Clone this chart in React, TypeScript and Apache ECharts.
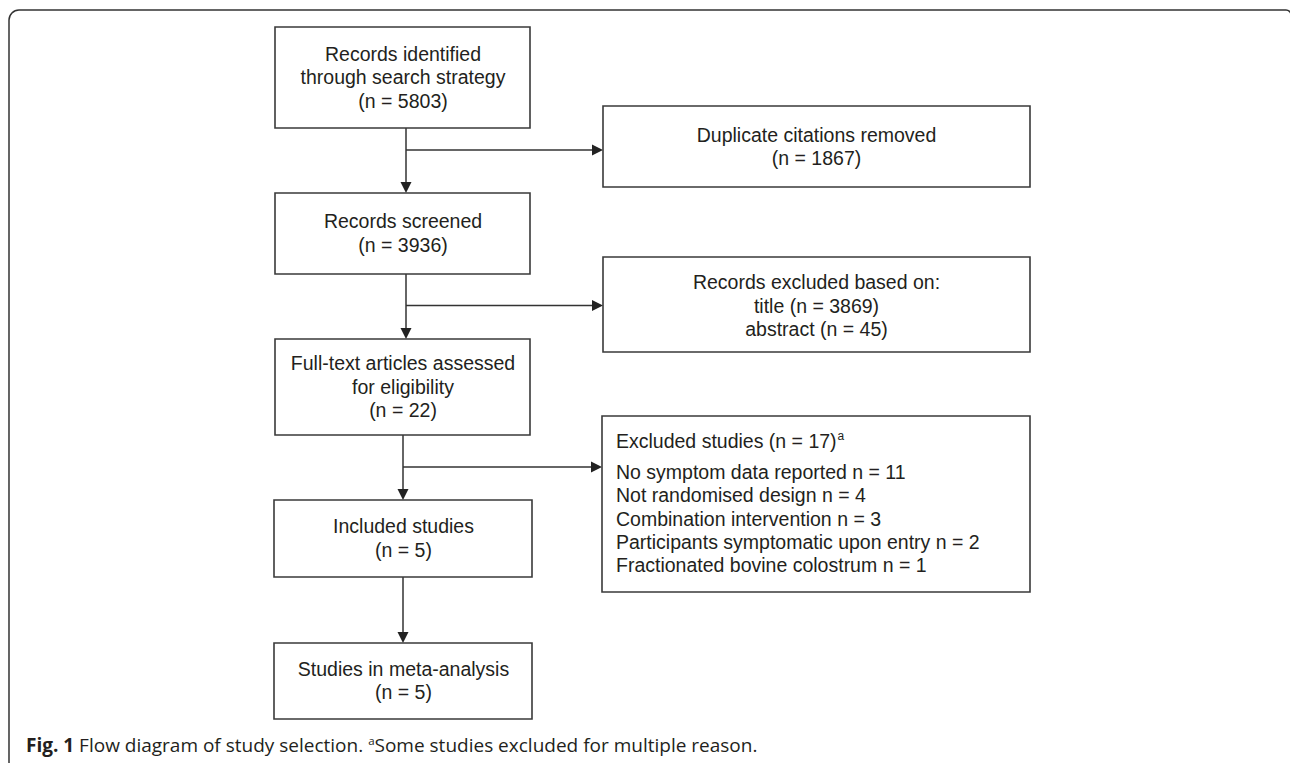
import React, { useEffect, useRef } from "react";
import * as echarts from "echarts";

// ---- content ----
const mainLabels = [
  "Records identified\nthrough search strategy",
  "Records screened",
  "Full-text articles assessed\nfor eligibility",
  "Included studies",
  "Studies in meta-analysis",
];
const mainCounts = [5803, 3936, 22, 5, 5];

const duplicateLabel = "Duplicate citations removed";
const duplicateCount = 1867;

const screeningHeader = "Records excluded based on:";
const screeningReasons = ["title", "abstract"];
const screeningCounts = [3869, 45];

const excludedHeader = "Excluded studies";
const excludedTotal = 17;
const exclusionReasons = [
  "No symptom data reported",
  "Not randomised design",
  "Combination intervention",
  "Participants symptomatic upon entry",
  "Fractionated bovine colostrum",
];
const exclusionCounts = [11, 4, 3, 2, 1];

const captionLabel = "Fig. 1";
const captionText = "Flow diagram of study selection.";
const captionNote = "Some studies excluded for multiple reason.";

// ---- layout ----
const W = 1290;
const H = 763;
const mainBoxes = [
  [275, 27, 255, 101],
  [275, 193, 255, 81],
  [275, 339, 255, 96],
  [274, 500, 258, 77],
  [274, 643, 258, 76],
];
const sideBoxes = [
  [603, 106, 427, 81],
  [603, 257, 427, 95],
  [602, 416, 428, 176],
];
const trunkX = [406, 406, 403, 403];
const branchY = [150, 305.5, 467];

const TEXT = "#231f20";
const LINE = "#333333";
const FONT = "'Liberation Sans', Arial, Helvetica, sans-serif";
const CAP_FONT = "'Open Sans', 'Noto Sans', sans-serif";
const FS = 19.5;
const LH = 23.5;

function box(b: number[]) {
  return {
    type: "rect",
    shape: { x: b[0], y: b[1], width: b[2], height: b[3] },
    style: { fill: "#fff", stroke: "#3a3a3a", lineWidth: 1.6 },
    silent: true,
  };
}
function line(x1: number, y1: number, x2: number, y2: number) {
  return {
    type: "line",
    shape: { x1, y1, x2, y2 },
    style: { stroke: LINE, lineWidth: 1.5 },
    silent: true,
  };
}
function downHead(x: number, y: number) {
  return {
    type: "polygon",
    shape: { points: [[x - 5.5, y - 11], [x + 5.5, y - 11], [x, y]] },
    style: { fill: "#222" },
    silent: true,
  };
}
function rightHead(x: number, y: number) {
  return {
    type: "polygon",
    shape: { points: [[x - 11, y - 5.5], [x - 11, y + 5.5], [x, y]] },
    style: { fill: "#222" },
    silent: true,
  };
}
function centerText(text: string, cx: number, cy: number) {
  return {
    type: "text",
    x: cx,
    y: cy,
    style: {
      text,
      fill: TEXT,
      fontSize: FS,
      fontFamily: FONT,
      align: "center",
      verticalAlign: "middle",
      lineHeight: LH,
    },
    silent: true,
  };
}

export default function App() {
  const ref = useRef<HTMLDivElement>(null);
  useEffect(() => {
    document.body.style.margin = "0";
    if (!ref.current) return;
    const chart = echarts.init(ref.current, null, { renderer: "svg" });
    const els: any[] = [];

    // outer frame
    els.push({
      type: "rect",
      shape: { x: 9, y: 10, width: 1282, height: 760, r: [10, 5, 0, 8] },
      style: { fill: "none", stroke: "#333", lineWidth: 1.5 },
      silent: true,
    });

    // connectors
    for (let i = 0; i < 4; i++) {
      const from = mainBoxes[i];
      const to = mainBoxes[i + 1];
      const x = trunkX[i];
      els.push(line(x, from[1] + from[3], x, to[1] - 10));
      els.push(downHead(x, to[1]));
      if (i < 3) {
        const sb = sideBoxes[i];
        const y = branchY[i];
        els.push(line(x, y, sb[0] - 10, y));
        els.push(rightHead(sb[0], y));
      }
    }

    // main boxes
    mainBoxes.forEach((b, i) => {
      els.push(box(b));
      els.push(
        centerText(
          `${mainLabels[i]}\n(n = ${mainCounts[i]})`,
          b[0] + b[2] / 2 + 0.5,
          b[1] + b[3] / 2 - 0.5
        )
      );
    });

    // side box 1
    const s1 = sideBoxes[0];
    els.push(box(s1));
    els.push(
      centerText(`${duplicateLabel}\n(n = ${duplicateCount})`, s1[0] + s1[2] / 2, s1[1] + s1[3] / 2)
    );

    // side box 2
    const s2 = sideBoxes[1];
    els.push(box(s2));
    els.push(
      centerText(
        [screeningHeader, ...screeningReasons.map((r, i) => `${r} (n = ${screeningCounts[i]})`)].join("\n"),
        s2[0] + s2[2] / 2,
        s2[1] + s2[3] / 2 + 1
      )
    );

    // side box 3
    const s3 = sideBoxes[2];
    els.push(box(s3));
    const tx = s3[0] + 14;
    els.push({
      type: "text",
      x: tx,
      y: 448 - 6.8,
      style: {
        text: `${excludedHeader} (n = ${excludedTotal}){sup|a}`,
        fill: TEXT,
        fontSize: FS,
        fontFamily: FONT,
        align: "left",
        verticalAlign: "middle",
        lineHeight: 22,
        rich: {
          sup: {
            fontSize: 12,
            fontFamily: FONT,
            fill: TEXT,
            lineHeight: 12,
            verticalAlign: "top",
            padding: [0, 0, 0, 1],
          },
        },
      },
      silent: true,
    });
    exclusionReasons.forEach((r, i) => {
      els.push({
        type: "text",
        x: tx,
        y: 479 + i * 23.25 - 6.8,
        style: {
          text: `${r} n = ${exclusionCounts[i]}`,
          fill: TEXT,
          fontSize: FS,
          fontFamily: FONT,
          align: "left",
          verticalAlign: "middle",
        },
        silent: true,
      });
    });

    // caption
    els.push({
      type: "text",
      x: 26,
      y: 744.5,
      style: {
        text: `{b|${captionLabel}} ${captionText} {sup|a}${captionNote}`,
        fill: TEXT,
        fontSize: 19,
        fontFamily: CAP_FONT,
        align: "left",
        verticalAlign: "middle",
        lineHeight: 21,
        rich: {
          b: {
            fontSize: 19,
            fontWeight: "bold",
            fontFamily: CAP_FONT,
            fill: TEXT,
            lineHeight: 21,
          },
          sup: {
            fontSize: 11.5,
            fontFamily: CAP_FONT,
            fill: TEXT,
            lineHeight: 11.5,
            verticalAlign: "top",
          },
        },
      },
      silent: true,
    });

    chart.setOption({
      animation: false,
      backgroundColor: "#ffffff",
      graphic: { elements: els },
    });
    return () => chart.dispose();
  }, []);
  return <div ref={ref} style={{ width: W, height: H }} />;
}
